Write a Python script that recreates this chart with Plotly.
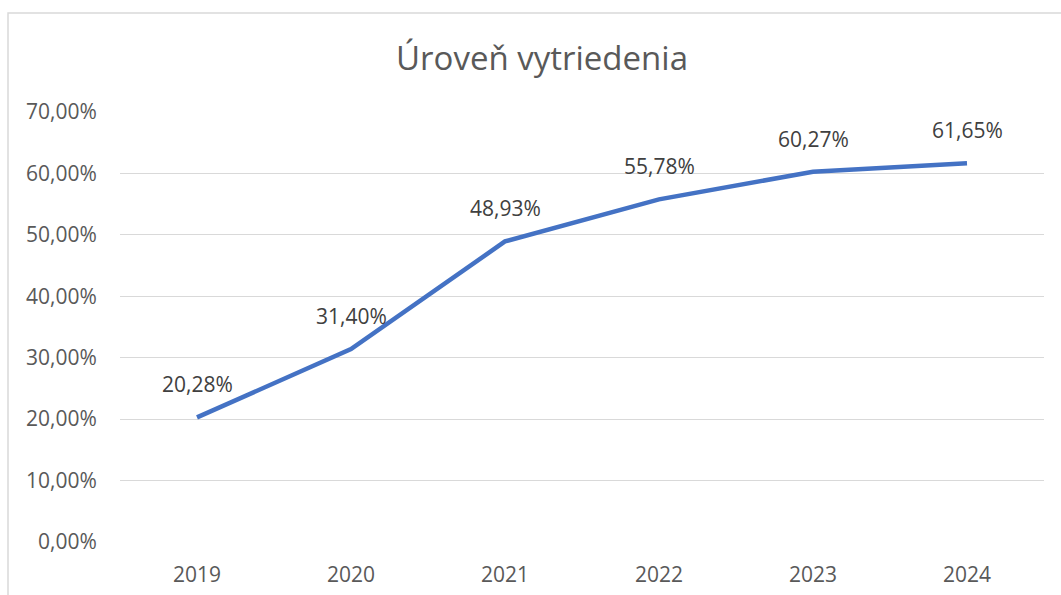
import plotly.graph_objects as go

years = ["2019", "2020", "2021", "2022", "2023", "2024"]
values = [0.2028, 0.3140, 0.4893, 0.5578, 0.6027, 0.6165]
y_ticks = [0, 0.1, 0.2, 0.3, 0.4, 0.5, 0.6, 0.7]
title = "Úroveň vytriedenia"

FONT = "Open Sans, Liberation Sans, sans-serif"
GREY = "#595959"

def pct(v):
    return f"{v*100:.2f}".replace(".", ",") + "%"

fig = go.Figure()
fig.add_trace(go.Scatter(
    x=years, y=values, mode="lines",
    line=dict(color="#4472C4", width=4.5),
    hoverinfo="skip", showlegend=False,
))
for i, v in enumerate(values):
    fig.add_annotation(x=i, y=v, xref="x", yref="y", text=pct(v), showarrow=False,
                       yshift=33, font=dict(family=FONT, size=21, color="#404040"))

fig.add_shape(type="rect", xref="paper", yref="paper",
              x0=-0.1212, x1=1.1, y0=-0.3, y1=1.2302,
              line=dict(color="#D9D9D9", width=1.5), layer="below")

fig.update_layout(
    width=1061, height=595,
    margin=dict(l=120, r=17, t=112, b=53, autoexpand=False),
    paper_bgcolor="white", plot_bgcolor="white",
    separators=",.",
    title=dict(text=title, x=542/1061, xref="container", y=1 - 58/595, yanchor="middle",
               xanchor="center", font=dict(family=FONT, size=33, color=GREY)),
    font=dict(family=FONT, color=GREY),
)
fig.update_xaxes(type="category", range=[-0.5, 5.5], showgrid=False, zeroline=False,
                 showline=False, ticks="outside", ticklen=14, tickcolor="rgba(0,0,0,0)",
                 tickfont=dict(size=21, color=GREY))
fig.update_yaxes(range=[0, 0.7], tickvals=y_ticks, tickformat=".2%",
                 showgrid=True, gridcolor="#D9D9D9", gridwidth=1,
                 zeroline=False, showline=False, ticks="outside", ticklen=18,
                 tickcolor="rgba(0,0,0,0)",
                 tickfont=dict(size=21, color=GREY))

fig.write_html("out.html", post_script="document.body.style.margin='0';",
               config={"displayModeBar": False})
